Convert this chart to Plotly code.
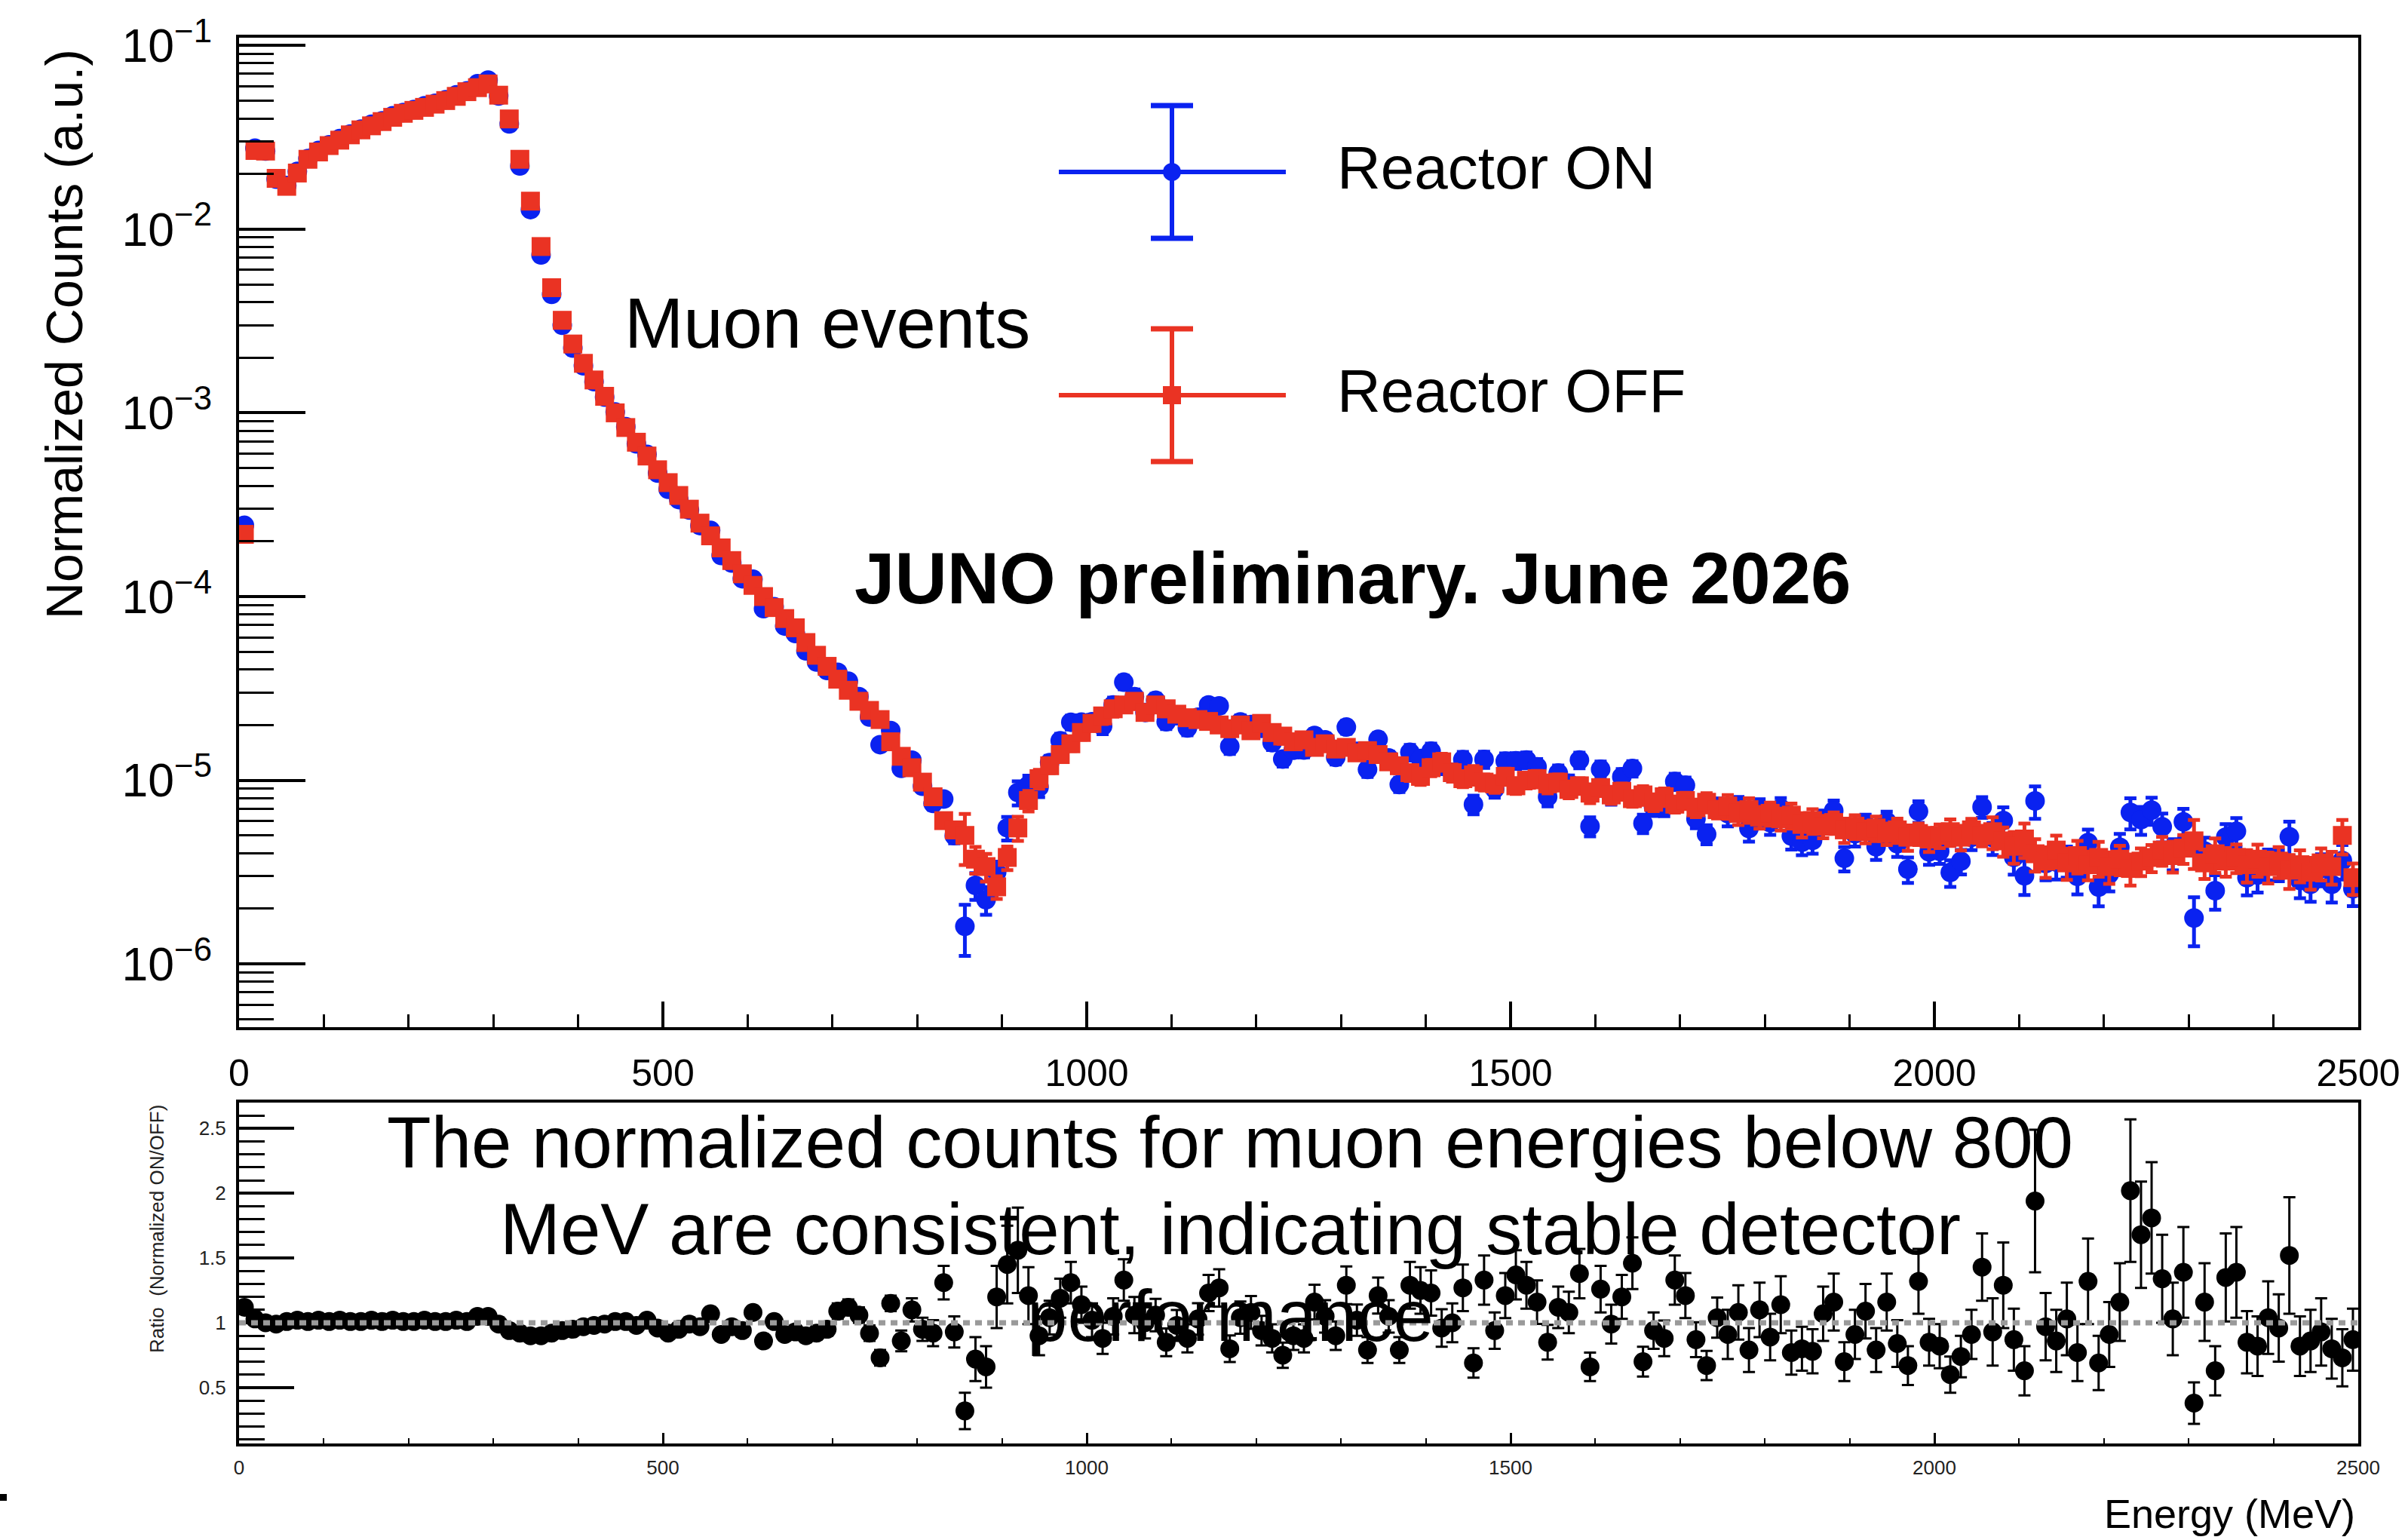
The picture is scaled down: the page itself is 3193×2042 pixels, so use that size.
import math
import plotly.graph_objects as go

W, H = 3193, 2042
FONT = "Liberation Sans, Arial, Helvetica, sans-serif"
BLUE = "#0a22f0"
RED = "#ea3323"

# ---------------- data ----------------
BIN_WIDTH = 12.5
N_BINS = 200
energy_mev = [BIN_WIDTH * (i + 0.5) for i in range(N_BINS)]

# Reactor OFF normalized counts (bins 1..200)
off_counts = [
    2.18e-4, 2.68e-2, 2.66e-2, 1.89e-2, 1.71e-2, 2.02e-2, 2.40e-2, 2.63e-2, 2.85e-2, 3.05e-2,
    3.26e-2, 3.47e-2, 3.65e-2, 3.85e-2, 4.06e-2, 4.27e-2, 4.43e-2, 4.60e-2, 4.79e-2, 5.01e-2,
    5.28e-2, 5.60e-2, 5.89e-2, 6.17e-2, 5.36e-2, 3.98e-2, 2.40e-2, 1.42e-2, 8.04e-3, 4.80e-3,
    3.19e-3, 2.37e-3, 1.86e-3, 1.51e-3, 1.23e-3, 1.00e-3, 8.32e-4, 6.92e-4, 5.82e-4, 4.90e-4,
    4.17e-4, 3.55e-4, 2.99e-4, 2.51e-4, 2.14e-4, 1.84e-4, 1.57e-4, 1.33e-4, 1.15e-4, 1.00e-4,
    8.71e-5, 7.59e-5, 6.76e-5, 5.62e-5, 4.79e-5, 4.17e-5, 3.55e-5, 3.09e-5, 2.69e-5, 2.40e-5,
    2.14e-5, 1.62e-5, 1.35e-5, 1.17e-5, 9.77e-6, 8.13e-6, 6.03e-6, 5.37e-6, 5.01e-6, 3.72e-6,
    3.39e-6, 2.63e-6, 3.80e-6, 5.50e-6, 7.76e-6, 1.02e-5, 1.20e-5, 1.38e-5, 1.58e-5, 1.82e-5,
    2.04e-5, 2.24e-5, 2.45e-5, 2.57e-5, 2.69e-5, 2.34e-5, 2.57e-5, 2.45e-5, 2.29e-5, 2.19e-5,
    2.14e-5, 2.09e-5, 2.00e-5, 1.91e-5, 2.00e-5, 1.86e-5, 2.04e-5, 1.82e-5, 1.74e-5, 1.62e-5,
    1.66e-5, 1.51e-5, 1.58e-5, 1.48e-5, 1.51e-5, 1.41e-5, 1.45e-5, 1.38e-5, 1.26e-5, 1.20e-5,
    1.10e-5, 1.05e-5, 1.17e-5, 1.26e-5, 1.10e-5, 1.02e-5, 1.07e-5, 9.77e-6, 9.55e-6, 1.05e-5,
    9.33e-6, 1.00e-5, 1.02e-5, 9.55e-6, 9.77e-6, 8.91e-6, 9.33e-6, 8.51e-6, 9.12e-6, 8.32e-6,
    8.71e-6, 7.94e-6, 8.32e-6, 7.59e-6, 8.13e-6, 7.41e-6, 7.76e-6, 7.08e-6, 7.59e-6, 6.92e-6,
    7.24e-6, 6.61e-6, 6.92e-6, 6.31e-6, 6.61e-6, 6.17e-6, 6.46e-6, 5.75e-6, 6.03e-6, 5.62e-6,
    5.89e-6, 5.37e-6, 5.62e-6, 5.25e-6, 5.50e-6, 5.13e-6, 5.37e-6, 4.90e-6, 5.13e-6, 4.79e-6,
    5.01e-6, 5.25e-6, 4.90e-6, 5.37e-6, 5.01e-6, 5.25e-6, 4.68e-6, 4.37e-6, 4.79e-6, 3.98e-6,
    3.63e-6, 4.17e-6, 3.55e-6, 3.89e-6, 3.47e-6, 3.80e-6, 3.39e-6, 3.72e-6, 3.31e-6, 3.63e-6,
    3.80e-6, 4.17e-6, 3.89e-6, 4.27e-6, 4.68e-6, 3.55e-6, 3.98e-6, 3.63e-6, 3.80e-6, 3.47e-6,
    3.72e-6, 3.39e-6, 3.63e-6, 3.24e-6, 3.47e-6, 3.16e-6, 3.55e-6, 3.39e-6, 5.01e-6, 2.95e-6,
]

# Ratio (normalized ON / OFF)
ratio_on_off = [
    1.12, 1.03, 1.00, 0.99, 1.01, 1.02, 1.01, 1.02, 1.01, 1.02,
    1.01, 1.01, 1.02, 1.01, 1.02, 1.01, 1.01, 1.02, 1.01, 1.01,
    1.02, 1.01, 1.05, 1.05, 0.99, 0.94, 0.92, 0.90, 0.90, 0.92,
    0.94, 0.95, 0.97, 0.98, 0.99, 1.01, 1.01, 0.98, 1.02, 0.96,
    0.92, 0.95, 0.99, 0.97, 1.07, 0.91, 0.97, 0.94, 1.08, 0.86,
    1.01, 0.91, 0.93, 0.90, 0.92, 0.95, 1.09, 1.12, 1.06, 0.92,
    0.73, 1.15, 0.86, 1.10, 0.95, 0.92, 1.31, 0.93, 0.32, 0.72,
    0.66, 1.20, 1.45, 1.56, 1.21, 0.90, 1.04, 1.19, 1.31, 1.14,
    1.02, 0.88, 1.05, 1.33, 1.06, 1.00, 1.06, 0.85, 0.98, 0.88,
    1.03, 1.23, 1.27, 0.80, 1.04, 1.08, 0.94, 0.88, 0.75, 0.90,
    0.88, 1.16, 1.05, 0.90, 1.29, 1.02, 0.79, 1.21, 1.05, 0.79,
    1.29, 1.25, 1.23, 0.96, 1.00, 1.27, 0.69, 1.33, 0.94, 1.21,
    1.37, 1.29, 1.16, 0.85, 1.12, 1.08, 1.38, 0.66, 1.26, 0.99,
    1.20, 1.46, 0.70, 0.94, 0.88, 1.33, 1.21, 0.87, 0.67, 1.04,
    0.91, 1.08, 0.79, 1.10, 0.89, 1.14, 0.77, 0.80, 0.78, 1.07,
    1.16, 0.70, 0.91, 1.09, 0.79, 1.16, 0.84, 0.67, 1.32, 0.85,
    0.82, 0.60, 0.74, 0.91, 1.43, 0.93, 1.29, 0.87, 0.63, 1.94,
    0.97, 0.86, 1.03, 0.77, 1.32, 0.69, 0.91, 1.16, 2.02, 1.68,
    1.81, 1.34, 1.03, 1.39, 0.38, 1.16, 0.63, 1.35, 1.39, 0.85,
    0.82, 1.04, 0.96, 1.52, 0.82, 0.86, 0.93, 0.80, 0.73, 0.87,
]

ratio_err = [
    0.02, 0.01, 0.01, 0.01, 0.01, 0.01, 0.01, 0.01, 0.01, 0.01,
    0.01, 0.01, 0.01, 0.01, 0.01, 0.01, 0.01, 0.01, 0.01, 0.01,
    0.01, 0.01, 0.01, 0.01, 0.01, 0.015, 0.015, 0.015, 0.015, 0.015,
    0.015, 0.015, 0.015, 0.015, 0.015, 0.025, 0.025, 0.025, 0.025, 0.025,
    0.025, 0.025, 0.025, 0.025, 0.025, 0.04, 0.04, 0.04, 0.04, 0.04,
    0.04, 0.04, 0.05, 0.05, 0.05, 0.05, 0.06, 0.06, 0.06, 0.06,
    0.06, 0.06, 0.08, 0.09, 0.09, 0.10, 0.13, 0.12, 0.14, 0.17,
    0.16, 0.24, 0.30, 0.33, 0.22, 0.15, 0.13, 0.15, 0.16, 0.14,
    0.13, 0.12, 0.14, 0.16, 0.14, 0.12, 0.125, 0.107, 0.119, 0.109,
    0.122, 0.14, 0.144, 0.102, 0.124, 0.127, 0.114, 0.109, 0.097, 0.11,
    0.109, 0.134, 0.125, 0.11, 0.146, 0.121, 0.10, 0.139, 0.125, 0.10,
    0.18, 0.18, 0.175, 0.145, 0.15, 0.18, 0.114, 0.19, 0.14, 0.174,
    0.19, 0.18, 0.168, 0.134, 0.16, 0.16, 0.19, 0.11, 0.18, 0.15,
    0.17, 0.20, 0.115, 0.14, 0.137, 0.19, 0.174, 0.135, 0.113, 0.155,
    0.19, 0.21, 0.17, 0.21, 0.18, 0.22, 0.17, 0.17, 0.17, 0.21,
    0.22, 0.15, 0.19, 0.21, 0.17, 0.22, 0.18, 0.15, 0.25, 0.18,
    0.17, 0.14, 0.16, 0.19, 0.26, 0.26, 0.33, 0.24, 0.19, 0.55,
    0.26, 0.24, 0.28, 0.22, 0.33, 0.21, 0.25, 0.30, 0.55, 0.41,
    0.43, 0.34, 0.28, 0.35, 0.16, 0.30, 0.19, 0.34, 0.35, 0.24,
    0.23, 0.28, 0.26, 0.45, 0.23, 0.24, 0.26, 0.23, 0.22, 0.24,
]

x_tick_vals = [0, 500, 1000, 1500, 2000, 2500]
x_tick_text = ["0", "500", "1000", "1500", "2000", "2500"]
ratio_tick_vals = [0.5, 1, 1.5, 2, 2.5]
ratio_tick_text = ["0.5", "1", "1.5", "2", "2.5"]

# Reactor ON counts follow from OFF counts and the ON/OFF ratio
on_counts = [o * r for o, r in zip(off_counts, ratio_on_off)]
rel_err = [e / r / math.sqrt(2) for e, r in zip(ratio_err, ratio_on_off)]
on_err = [v * s for v, s in zip(on_counts, rel_err)]
off_err = [v * s for v, s in zip(off_counts, rel_err)]

# ---------------- figure ----------------
def px(x):
    return x / W


def py(y):
    return 1 - y / H


fig = go.Figure()

fig.add_trace(go.Scatter(
    x=energy_mev, y=on_counts, mode="markers", name="Reactor ON",
    marker=dict(symbol="circle", size=26, color=BLUE),
    error_y=dict(type="data", array=on_err, color=BLUE, thickness=5, width=8),
    xaxis="x", yaxis="y", showlegend=False,
))
fig.add_trace(go.Scatter(
    x=energy_mev, y=off_counts, mode="markers", name="Reactor OFF",
    marker=dict(symbol="square", size=25, color=RED),
    error_y=dict(type="data", array=off_err, color=RED, thickness=5, width=8),
    xaxis="x", yaxis="y", showlegend=False,
))
fig.add_trace(go.Scatter(
    x=energy_mev, y=ratio_on_off, mode="markers", name="Ratio",
    marker=dict(symbol="circle", size=25, color="black"),
    error_y=dict(type="data", array=ratio_err, color="black", thickness=3, width=8),
    xaxis="x2", yaxis="y2", showlegend=False,
))

X_DOM = [px(317), px(3127)]
common_axis = dict(showline=True, linewidth=4, linecolor="black", mirror=True,
                   showgrid=False, zeroline=False, ticks="inside", tickcolor="black",
                   automargin=False)

fig.update_layout(
    width=W, height=H,
    margin=dict(l=0, r=0, t=0, b=0, pad=0),
    paper_bgcolor="white", plot_bgcolor="white",
    font=dict(family=FONT, color="black"),
    xaxis=dict(
        domain=X_DOM, anchor="y", range=[0, 2500],
        tickmode="array", tickvals=x_tick_vals, ticktext=x_tick_text,
        ticklen=34, tickwidth=4, tickfont=dict(size=50, family=FONT, color="black"),
        ticklabelstandoff=14,
        minor=dict(ticks="inside", ticklen=17, tickwidth=3, tickcolor="black",
                   tickmode="linear", tick0=0, dtick=100, showgrid=False),
        **common_axis,
    ),
    yaxis=dict(
        domain=[py(1362), py(50)], anchor="x", type="log", range=[-6.344, -0.958],
        tickmode="linear", tick0=0, dtick=1, exponentformat="power",
        ticklen=88, tickwidth=4, tickfont=dict(size=50, family=FONT, color="black"),
        ticklabelstandoff=22,
        minor=dict(ticks="inside", ticklen=46, tickwidth=3, tickcolor="black",
                   dtick="D1", showgrid=False),
        **common_axis,
    ),
    xaxis2=dict(
        domain=X_DOM, anchor="y2", range=[0, 2500],
        tickmode="array", tickvals=x_tick_vals, ticktext=x_tick_text,
        ticklen=14, tickwidth=3, tickfont=dict(size=26, family=FONT, color="#222"),
        ticklabelstandoff=6,
        minor=dict(ticks="inside", ticklen=7, tickwidth=2, tickcolor="black",
                   tickmode="linear", tick0=0, dtick=100, showgrid=False),
        **common_axis,
    ),
    yaxis2=dict(
        domain=[py(1914), py(1462)], anchor="x2", range=[0.0687, 2.70],
        tickmode="array", tickvals=ratio_tick_vals, ticktext=ratio_tick_text,
        ticklen=73, tickwidth=4, tickfont=dict(size=26, family=FONT, color="#222"),
        ticklabelstandoff=8,
        minor=dict(ticks="inside", ticklen=34, tickwidth=3, tickcolor="black",
                   tickmode="linear", tick0=0, dtick=0.1, showgrid=False),
        **common_axis,
    ),
)

shapes = []
# reference line at ratio = 1
shapes.append(dict(type="line", xref="x2", yref="y2", x0=0, x1=2500, y0=1, y1=1,
                   line=dict(color="#9a9a9a", width=7, dash="9px,7px"), layer="above"))

# legend glyphs
def legend_glyph(yc, color, marker):
    out = []
    xc = 1554
    out.append(dict(type="line", xref="paper", yref="paper", x0=px(1404), x1=px(1705),
                    y0=py(yc), y1=py(yc), line=dict(color=color, width=6)))
    out.append(dict(type="line", xref="paper", yref="paper", x0=px(xc), x1=px(xc),
                    y0=py(yc - 88), y1=py(yc + 88), line=dict(color=color, width=6)))
    for yy in (yc - 88, yc + 88):
        out.append(dict(type="line", xref="paper", yref="paper", x0=px(xc - 28), x1=px(xc + 28),
                        y0=py(yy), y1=py(yy), line=dict(color=color, width=7)))
    r = 12
    out.append(dict(type=marker, xref="paper", yref="paper", x0=px(xc - r), x1=px(xc + r),
                    y0=py(yc + r), y1=py(yc - r), fillcolor=color, line=dict(width=0)))
    return out

shapes += legend_glyph(228, BLUE, "circle")
shapes += legend_glyph(524, RED, "rect")

# small stray mark at the lower-left corner of the page
shapes.append(dict(type="rect", xref="paper", yref="paper", x0=0, x1=px(9),
                   y0=py(1990), y1=py(1981), fillcolor="black", line=dict(width=0)))

fig.update_layout(shapes=shapes)

ann = []
def text(x, y, s, size, xanchor="left", yanchor="middle", angle=0, bold=False, color="black"):
    ann.append(dict(xref="paper", yref="paper", x=x, y=y, text=("<b>%s</b>" % s) if bold else s,
                    showarrow=False, xanchor=xanchor, yanchor=yanchor, textangle=angle,
                    font=dict(family=FONT, size=size, color=color)))

text(px(85), py(443), "Normalized Counts (a.u.)", 68, xanchor="center", angle=-90)
text(px(208), py(1630), "Ratio  (Normalized ON/OFF)", 26, xanchor="center", angle=-90, color="#222")
text(px(826), py(428), "Muon events", 94)
text(px(1131), py(766), "JUNO preliminary. June 2026", 96, bold=True)
text(px(1771), py(223), "Reactor ON", 80)
text(px(1771), py(518), "Reactor OFF", 80)
text(px(1631), py(1514), "The normalized counts for muon energies below 800", 96, xanchor="center")
text(px(1631), py(1629), "MeV are consistent, indicating stable detector", 96, xanchor="center")
text(px(1631), py(1744), "performance", 96, xanchor="center")
text(px(3125), py(2007), "Energy (MeV)", 54, xanchor="right")

fig.update_layout(annotations=ann)

fig.write_html("out.html")
